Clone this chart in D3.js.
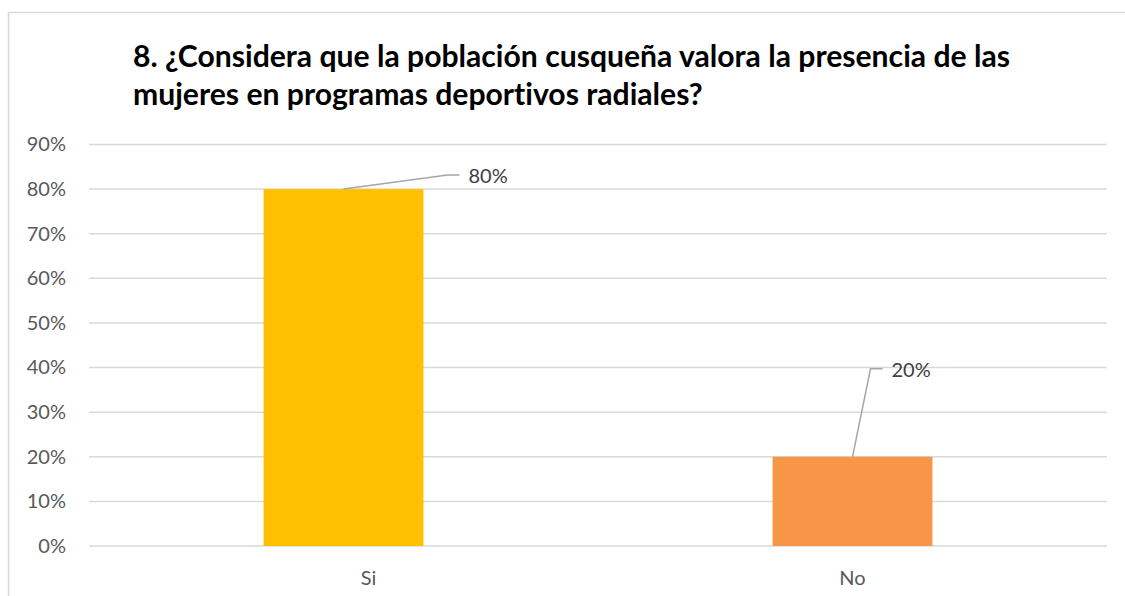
<!DOCTYPE html>
<html>
<head>
<meta charset="utf-8">
<script src="https://cdn.jsdelivr.net/npm/d3@7"></script>
<style>
  body { margin: 0; background: #fff; }
  svg { display: block; }
  text { font-variant-ligatures: none; }
</style>
</head>
<body>
<div id="chart"></div>
<script>
// chart data
const categories = ["Si", "No"];
const values = [0.80, 0.20];
const barColors = ["#FFC000", "#F79646"];
const titleLines = [
    "8. ¿Considera que la población cusqueña valora la presencia de las",
    "mujeres en programas deportivos radiales?"
];
const yTicks = [0, 0.1, 0.2, 0.3, 0.4, 0.5, 0.6, 0.7, 0.8, 0.9];

function drawSvg() {
    const W = 1125, H = 596;
    const plot = { left: 89, right: 1107, top: 144.5, bottom: 546 };

    const svg = d3.select("#chart")
        .append("svg")
        .attr("width", W)
        .attr("height", H);

    // chart frame (cut off on the right and bottom like the screenshot)
    svg.append("rect")
        .attr("x", 8.5).attr("y", 12.5)
        .attr("width", 1300).attr("height", 800)
        .attr("fill", "#fff")
        .attr("stroke", "#d9d9d9")
        .attr("stroke-width", 1.5);

    // title
    const title = svg.append("text")
        .attr("font-family", "Lato, 'Open Sans', sans-serif")
        .attr("font-weight", "bold")
        .attr("fill", "#000");
    title.selectAll("tspan")
        .data(titleLines)
        .enter()
        .append("tspan")
        .attr("x", 133)
        .attr("y", (d, i) => 67 + i * 38)
        .text(d => d);
    // size the title so the first line spans the same width as the original
    let fs = 26;
    title.attr("font-size", fs + "px");
    const w0 = title.select("tspan").node().getComputedTextLength();
    fs = fs * 877 / w0;
    title.attr("font-size", fs.toFixed(2) + "px");

    const y = d3.scaleLinear()
        .domain([0, 0.9])
        .range([plot.bottom, plot.top]);

    const x = d3.scaleBand()
        .domain(categories)
        .range([plot.left, plot.right])
        .paddingInner(0.686)
        .paddingOuter(0.343);

    // gridlines
    svg.append("g")
        .selectAll("line")
        .data(yTicks)
        .enter()
        .append("line")
        .attr("x1", plot.left).attr("x2", plot.right)
        .attr("y1", d => y(d)).attr("y2", d => y(d))
        .attr("stroke", "#d9d9d9")
        .attr("stroke-width", 1.5);

    // Y axis labels
    const yAxis = svg.append("g")
        .attr("transform", "translate(" + (plot.left - 23) + ",0)")
        .call(d3.axisLeft(y).tickValues(yTicks).tickFormat(d3.format(".0%")).tickSize(0).tickPadding(0));
    yAxis.select(".domain").remove();
    yAxis.selectAll("text")
        .attr("font-family", "Lato, sans-serif")
        .attr("font-size", "20px")
        .attr("fill", "#595959");

    // X axis labels
    const xAxis = svg.append("g")
        .attr("transform", "translate(0," + plot.bottom + ")")
        .call(d3.axisBottom(x).tickSize(0).tickPadding(0));
    xAxis.select(".domain").remove();
    xAxis.selectAll("text")
        .attr("y", 39)
        .attr("dy", 0)
        // the "Si" label sits a bit right of its bar in the original
        .attr("dx", (d, i) => i === 0 ? 25 : 0)
        .attr("font-family", "Lato, sans-serif")
        .attr("font-size", "20px")
        .attr("fill", "#595959");

    // Bars
    svg.selectAll("rect.bar")
        .data(categories)
        .enter()
        .append("rect")
        .attr("class", "bar")
        .attr("x", d => x(d))
        .attr("y", (d, i) => y(values[i]))
        .attr("width", x.bandwidth())
        .attr("height", (d, i) => plot.bottom - y(values[i]))
        .attr("fill", (d, i) => barColors[i]);

    // data labels with leader lines (label offsets as placed in the original)
    const labelOffsets = [[104, -14], [18, -88]];
    const lbl = svg.append("g");
    categories.forEach((c, i) => {
        const bx = x(c) + x.bandwidth() / 2, by = y(values[i]);
        const ex = bx + labelOffsets[i][0], ey = by + labelOffsets[i][1];
        lbl.append("polyline")
            .attr("points", [[bx, by], [ex, ey], [ex + 12, ey]].map(p => p.join(",")).join(" "))
            .attr("fill", "none")
            .attr("stroke", "#a6a6a6")
            .attr("stroke-width", 1.5);
        lbl.append("text")
            .attr("x", ex + 21)
            .attr("y", ey + 1)
            .attr("dy", "0.35em")
            .attr("font-family", "Lato, sans-serif")
            .attr("font-size", "20px")
            .attr("fill", "#404040")
            .text(d3.format(".0%")(values[i]));
    });
}

drawSvg();
</script>
</body>
</html>
